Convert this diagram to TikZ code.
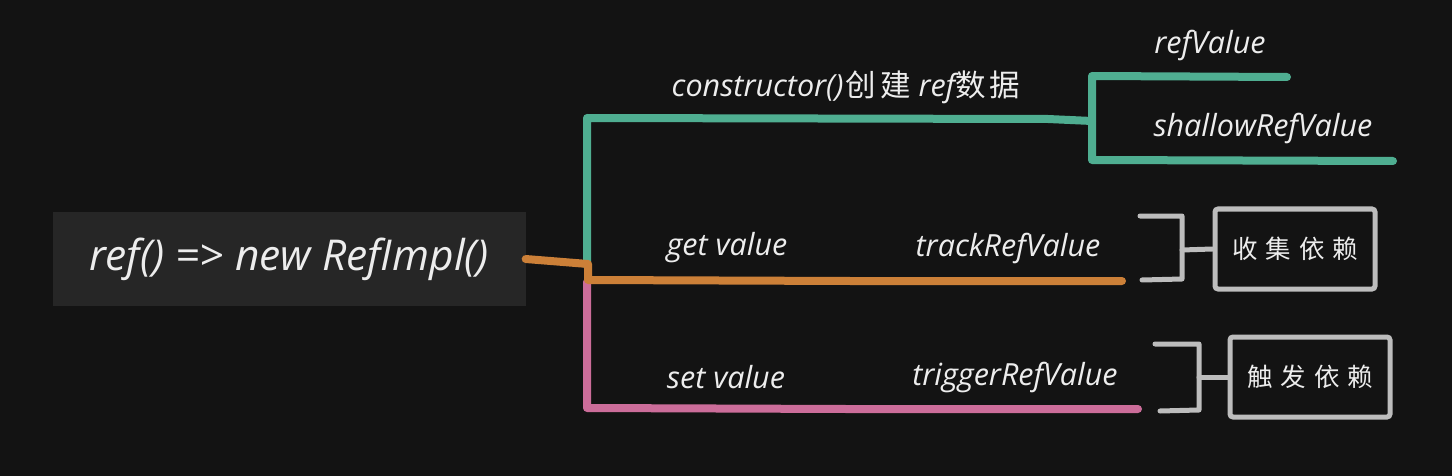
\documentclass[tikz,border=0pt]{standalone}
\usepackage{fontspec}
\setmainfont{Open Sans}
\newfontfamily\cjk{Noto Sans CJK SC}
\definecolor{bg}{HTML}{131313}
\definecolor{boxfill}{HTML}{262626}
\definecolor{tealc}{HTML}{4FAE91}
\definecolor{orangec}{HTML}{CC8038}
\definecolor{pinkc}{HTML}{CC6D9A}
\definecolor{grayc}{HTML}{BDBDBD}
\definecolor{txt}{HTML}{EDEDED}
\tikzset{
  lbl/.style={text=txt, font=\itshape\fontsize{30.5}{34}\selectfont, inner sep=0pt},
  rootbox/.style={fill=boxfill, text=txt, minimum width=473pt, minimum height=94pt, inner sep=0pt, font=\itshape\fontsize{42.5}{46}\selectfont},
  branch/.style={line width=8pt, line cap=round, line join=round},
  brk/.style={draw=grayc, line width=5pt, line cap=round, line join=round},
  leafbox/.style={draw=grayc, line width=5pt, rounded corners=3pt, minimum width=160pt, minimum height=80pt, inner sep=0pt, text=txt, font=\cjk\fontsize{25.5}{30}\selectfont},
}
\begin{document}
\begin{tikzpicture}[x=1pt,y=-1pt]
\useasboundingbox (0,0) rectangle (1452,476);
\fill[bg] (0,0) rectangle (1452,476);

% root
\node[rootbox] (root) at (289,259) {ref() => new RefImpl()};

% junction coordinates
\coordinate (jt) at (587,118);
\coordinate (jm) at (587,266);
\coordinate (jo) at (588,280);
\coordinate (jp) at (587,408);
\coordinate (ct) at (1092,121);
\coordinate (ot) at (1122,281);
\coordinate (pt) at (1138,409);
\coordinate (bt1) at (1092,76);
\coordinate (bt2) at (1287,77);
\coordinate (bb1) at (1092,160);
\coordinate (bb2) at (1393,161);

% teal branch
\draw[branch, tealc] (jm) -- (jt) -- (1048,119) -- (ct);
\draw[branch, tealc] (bt2) -- (bt1) -- (bb1) -- (bb2);
% pink branch
\draw[branch, pinkc] (587,282) -- (jp) -- (846,409) -- (pt);
% orange branch
\draw[branch, orangec] (root.east) -- (588,264) -- (jo) -- (850,281) -- (ot);

% labels
\node[lbl] (cons) at (846,87) {constructor()\kern2pt{\upshape\cjk 创\kern4pt建} ref{\upshape\cjk 数\kern4pt据}};
\node[lbl] (rv) at (1210,45) {refValue};
\node[lbl] (srv) at (1263,128) {shallowRefValue};
\node[lbl] (getv) at (727,248) {get value};
\node[lbl] (track) at (1008,248) {trackRefValue};
\node[lbl] (setv) at (726,377) {set value};
\node[lbl] (trig) at (1015,377) {triggerRefValue};

% leaf boxes
\node[leafbox] (collect) at (1295,249) {收\hspace{8pt}集\hspace{8pt}依\hspace{8pt}赖};
\node[leafbox] (trigger) at (1310,377) {触\hspace{8pt}发\hspace{8pt}依\hspace{8pt}赖};

% brackets
\draw[brk] (1140,216) -- (1182,216) -- (1182,279) -- (1142,280);
\draw[brk] (1182,250) -- (collect.west);
\draw[brk] (1155,344) -- (1199,344) -- (1199,410) -- (1160,411);
\draw[brk] (1199,377) -- (trigger.west);
\end{tikzpicture}
\end{document}
